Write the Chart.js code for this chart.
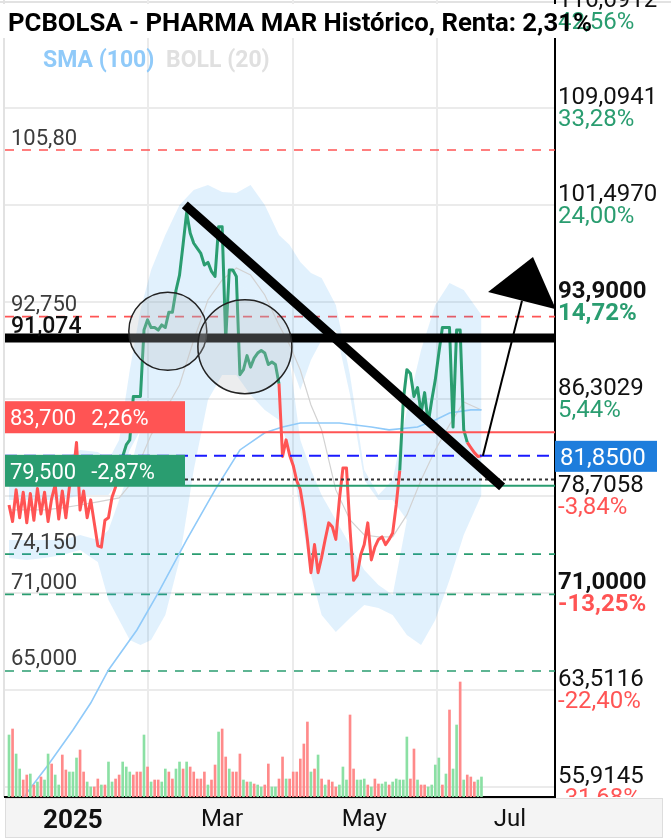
<!DOCTYPE html>
<html>
<head>
<meta charset="utf-8">
<script src="https://cdn.jsdelivr.net/npm/chart.js@4/dist/chart.umd.min.js"></script>
<style>
html, body { margin: 0; padding: 0; background: #fff; }
#wrap { width: 671px; height: 840px; position: relative; }
</style>
</head>
<body>
<div id="wrap"><canvas id="chart"></canvas></div>
<script>
// x = trading-day index, 0 = 4 Dec 2024
var price = [78.0, 76.7, 79.2, 77.0, 79.0, 76.6, 78.9, 76.8, 79.3, 77.3,
             79.0, 76.7, 78.5, 79.6, 76.9, 79.1, 77.0, 79.4, 80.2, 82.9,
             77.6, 79.1, 77.0, 78.4, 76.6, 74.8, 74.7, 76.8, 77.0, 78.6,
             79.4, 81.5, 81.8, 82.7, 83.1, 86.5, 86.5, 86.5, 91.7, 92.5,
             91.9, 91.9, 91.7, 92.1, 91.9, 93.1, 93.1, 94.8, 96.0, 98.4,
             100.9, 99.3, 98.5, 98.1, 97.7, 96.8, 97.0, 96.3, 95.9, 99.8,
             99.8, 90.9, 96.4, 96.4, 95.9, 88.2, 88.6, 89.7, 88.8, 89.5,
             89.9, 90.1, 89.9, 89.0, 89.2, 89.0, 87.5, 81.8, 83.1, 81.9,
             81.1, 79.9, 79.2, 77.5, 75.3, 72.7, 74.9, 72.7, 73.9, 75.3,
             76.6, 76.3, 75.3, 78.4, 80.9, 80.9, 76.1, 72.1, 72.5, 74.1,
             74.9, 76.6, 73.7, 74.7, 75.3, 75.5, 74.9, 75.3, 75.8, 78.0,
             80.7, 86.2, 88.6, 88.3, 86.5, 87.2, 85.2, 86.8, 84.4, 86.2,
             87.8, 89.9, 91.9, 91.9, 91.9, 84.1, 91.7, 91.7, 83.9, 82.9,
             82.5, 82.1, 81.8, 81.85];

// colour of the price line changes at these indices
var trendStart = [0, 31, 76, 110, 129];
var trendUp = [false, true, false, true, false];

var volume = [620, 680, 430, 280, 170, 220, 230, 120, 150, 200,
              170, 430, 330, 220, 120, 420, 270, 250, 250, 390,
              470, 250, 150, 100, 100, 180, 120, 120, 350, 150,
              180, 220, 350, 300, 250, 220, 250, 250, 620, 300,
              150, 170, 170, 150, 280, 250, 180, 280, 350, 280,
              350, 300, 250, 180, 180, 250, 120, 170, 320, 650,
              680, 400, 280, 250, 250, 430, 170, 150, 150, 130,
              120, 100, 120, 330, 100, 100, 180, 400, 180, 180,
              250, 250, 380, 530, 750, 250, 280, 420, 180, 120,
              170, 150, 100, 120, 300, 170, 820, 280, 170, 170,
              180, 120, 100, 180, 130, 130, 150, 120, 150, 180,
              170, 170, 600, 180, 480, 170, 120, 120, 100, 120,
              320, 390, 120, 230, 870, 280, 720, 1150, 170, 220,
              200, 150, 170, 200];
var volUp = [1, 0, 1, 1, 0, 0, 1, 0, 1, 0, 1, 1, 0, 1, 1, 0, 0, 1, 1, 1,
             0, 0, 1, 1, 0, 0, 1, 0, 1, 1, 0, 0, 1, 1, 1, 0, 0, 0, 1, 0,
             1, 0, 0, 1, 1, 0, 0, 1, 1, 0, 1, 0, 0, 0, 0, 0, 1, 0, 0, 1,
             0, 0, 1, 0, 0, 0, 1, 0, 1, 0, 1, 1, 0, 0, 1, 1, 0, 0, 1, 0,
             0, 0, 0, 0, 0, 1, 0, 1, 0, 1, 0, 0, 0, 1, 1, 1, 0, 0, 1, 1,
             1, 0, 1, 0, 0, 1, 1, 0, 1, 1, 1, 1, 1, 0, 0, 1, 0, 0, 1, 1,
             1, 1, 0, 1, 0, 1, 1, 0, 1, 0, 0, 0, 1, 1];

// BOLL (20): outer bands, inner edges of the shaded zones, middle
var bollIdx = [0, 5, 10, 15, 20, 25, 28, 31, 34, 37, 40, 44, 48, 52, 56, 60, 64, 68,
               72, 76, 79, 82, 85, 88, 92, 96, 100, 104, 108, 112, 116, 120, 124, 128, 133];
var bollUpper = [81.14, 81.14, 81.14, 81.53, 82.31, 82.15, 81.53, 83.09, 88.57, 93.27,
                 96.41, 99.15, 101.50, 102.67, 103.06, 102.51, 102.44, 103.06, 101.50, 99.15,
                 98.36, 97.03, 96.17, 95.78, 93.67, 88.18, 80.74, 78.79, 79.96, 85.44,
                 90.14, 93.67, 95.39, 94.84, 92.88];
var bollUpperIn = [78.40, 78.40, 78.40, 78.40, 78.79, 78.79, 78.79, 79.96, 82.31, 83.88,
                   84.66, 86.23, 87.79, 91.71, 94.06, 95.23, 95.23, 94.84, 93.67, 91.71,
                   89.36, 87.01, 89.36, 90.92, 91.71, 86.62, 79.96, 78.40, 78.40, 76.83,
                   79.96, 83.09, 84.66, 85.44, 86.23];
var bollLowerIn = [75.26, 75.26, 75.26, 75.26, 75.65, 75.26, 76.05, 78.40, 80.74, 83.88,
                   84.66, 86.23, 87.79, 91.71, 94.06, 95.23, 95.23, 94.84, 93.67, 91.71,
                   89.36, 83.09, 80.74, 78.79, 76.83, 74.87, 72.91, 71.74, 70.96, 76.83,
                   79.96, 83.09, 84.66, 85.44, 86.23];
var bollLower = [73.85, 73.70, 73.85, 74.09, 74.48, 73.54, 70.56, 68.99, 67.43, 67.04,
                 67.43, 69.39, 73.70, 80.74, 86.23, 88.18, 88.18, 86.62, 85.44, 84.66,
                 82.31, 77.61, 72.52, 69.39, 68.06, 69.15, 70.17, 69.94, 69.39, 67.82,
                 67.04, 68.99, 72.13, 75.65, 78.79];
var bollMid = [77.61, 77.61, 77.61, 77.77, 78.00, 78.24, 78.40, 78.55, 79.57, 81.53,
               83.49, 85.44, 87.40, 90.92, 94.06, 95.62, 96.56, 96.01, 94.45, 92.10,
               90.53, 88.57, 85.83, 83.88, 79.18, 76.83, 75.65, 75.50, 75.50, 77.22,
               79.96, 82.31, 84.27, 86.07, 85.44];

var smaIdx = [4, 5, 11, 18, 23, 28, 36, 42, 50, 58, 65, 72, 77, 82, 93, 102, 107, 115, 120, 124, 130, 133];
var sma100 = [54.89, 55.44, 57.64, 60.38, 62.49, 65.08, 68.21, 71.11, 75.26, 79.18, 82.31,
              83.65, 84.11, 84.42, 84.42, 84.11, 83.88, 84.11, 84.66, 85.21, 85.45, 85.45];

var monthTicks = [18, 60, 100, 141];
var monthLabels = ['2025', 'Mar', 'May', 'Jul'];

var yTicks = [55.9145, 63.5116, 71.1087, 78.7058, 86.3029, 93.9000, 101.4970, 109.0941, 116.6912];
var yTickLabels = ['55,9145', '63,5116', '71,0000', '78,7058', '86,3029', '93,9000', '101,4970', '109,0941', '116,6912'];
var yTickPct = ['-31,68%', '-22,40%', '-13,25%', '-3,84%', '5,44%', '14,72%', '24,00%', '33,28%', '42,56%'];
var yTickBold = [false, false, true, false, false, true, false, false, false];

var lastPrice = 81.85;
var lastLabel = '81,8500';
var prevClose = 80.00;

var levels = [105.80, 92.75, 91.074, 83.70, 79.50, 74.15, 71.00, 65.00];
var levelLabels = ['105,80', '92,750', '91,074', '83,700', '79,500', '74,150', '71,000', '65,000'];
var levelPct = ['', '', '', '2,26%', '-2,87%', '', '', ''];

var trendLine = [[49.5, 101.50], [138.8, 79.41]];
var arrowLine = [[133.4, 81.85], [147.5, 97.42]];
var circleCenters = [[44.7, 91.6], [66.4, 90.4]];

var title = 'PCBOLSA - PHARMA MAR Histórico, Renta: 2,31%';

var GREEN = '#2a9d70', RED = '#ff5454', GRID = '#ebebeb';

// how each level line is drawn
var levelStyle = [
  { kind: 'dash', color: RED },
  { kind: 'dash', color: RED },
  { kind: 'thick', color: '#000' },
  { kind: 'box', color: RED },
  { kind: 'box', color: GREEN },
  { kind: 'dash', color: GREEN },
  { kind: 'dash', color: GREEN },
  { kind: 'dash', color: GREEN }
];
var circleRadius = [39, 47];

function pts(xs, ys) {
  return xs.map(function (x, k) { return { x: x, y: ys[k] }; });
}
function isUp(i) {
  var up = false;
  for (var k = 0; k < trendStart.length; k++) if (i >= trendStart[k]) up = trendUp[k];
  return up;
}

Chart.defaults.font.family = 'Roboto';

var levelLines = {
  id: 'levelLines',
  beforeDraw: function (chart) {
    var c = chart.ctx, a = chart.chartArea;
    c.save();
    c.fillStyle = '#f4f4f4';
    c.fillRect(5, a.bottom + 1, 658, 40);
    c.strokeStyle = '#dddddd';
    c.lineWidth = 1;
    c.strokeRect(5.5, a.bottom + 1.5, 657, 39);
    c.strokeStyle = '#e2e2e2';
    c.lineWidth = 2;
    c.beginPath();
    c.moveTo(0, 2); c.lineTo(chart.width, 2);
    c.moveTo(4, 0); c.lineTo(4, a.bottom);
    c.stroke();
    c.restore();
  },
  beforeDatasetsDraw: function (chart) {
    var c = chart.ctx, a = chart.chartArea, y = chart.scales.y;
    c.save();
    levels.forEach(function (v, k) {
      var s = levelStyle[k], yy = y.getPixelForValue(v);
      if (s.kind !== 'dash') return;
      c.strokeStyle = s.color;
      c.lineWidth = 1.6;
      c.setLineDash([9, 8]);
      c.beginPath(); c.moveTo(a.left, yy); c.lineTo(a.right, yy); c.stroke();
    });
    c.restore();
  },
  afterDatasetsDraw: function (chart) {
    var c = chart.ctx, a = chart.chartArea, x = chart.scales.x, y = chart.scales.y;
    c.save();
    // last price and previous close
    var yl = y.getPixelForValue(lastPrice);
    c.strokeStyle = '#1a1aff'; c.lineWidth = 2; c.setLineDash([12, 7]);
    c.beginPath(); c.moveTo(a.left, yl); c.lineTo(a.right, yl); c.stroke();
    var yp = y.getPixelForValue(prevClose);
    c.strokeStyle = '#333'; c.lineWidth = 2; c.setLineDash([3, 3]);
    c.beginPath(); c.moveTo(185, yp); c.lineTo(a.right, yp); c.stroke();
    c.setLineDash([]);

    levels.forEach(function (v, k) {
      var s = levelStyle[k], yy = y.getPixelForValue(v);
      c.textBaseline = 'alphabetic';
      if (s.kind === 'thick') {
        c.strokeStyle = '#000'; c.lineWidth = 9;
        c.beginPath(); c.moveTo(a.left, yy); c.lineTo(a.right, yy); c.stroke();
        c.fillStyle = '#111'; c.font = '500 23px Roboto';
        c.fillText(levelLabels[k], 11, yy - 5.5);
      } else if (s.kind === 'box') {
        c.strokeStyle = s.color; c.lineWidth = 2;
        c.beginPath(); c.moveTo(a.left, yy); c.lineTo(a.right, yy); c.stroke();
        c.fillStyle = s.color;
        c.fillRect(a.left, yy - 31, 180, 31);
        c.fillStyle = '#fff'; c.font = '22px Roboto';
        c.fillText(levelLabels[k], 10, yy - 7);
        var w = c.measureText(levelLabels[k]).width;
        c.fillText(levelPct[k], 10 + w + 15, yy - 7);
      } else {
        c.fillStyle = '#3c3c3c'; c.font = '22px Roboto';
        c.fillText(levelLabels[k], 11, yy - 5.5);
      }
    });

    // circles
    circleCenters.forEach(function (p, k) {
      var cx = x.getPixelForValue(p[0]), cy = y.getPixelForValue(p[1]);
      c.beginPath(); c.arc(cx, cy, circleRadius[k], 0, Math.PI * 2);
      c.fillStyle = 'rgba(185,190,195,0.28)'; c.fill();
      c.strokeStyle = '#222'; c.lineWidth = 1.5; c.stroke();
    });

    // thick trend line
    c.strokeStyle = '#000'; c.lineWidth = 9; c.lineCap = 'butt';
    c.beginPath();
    c.moveTo(x.getPixelForValue(trendLine[0][0]), y.getPixelForValue(trendLine[0][1]));
    c.lineTo(x.getPixelForValue(trendLine[1][0]), y.getPixelForValue(trendLine[1][1]));
    c.stroke();

    // arrow
    var x0 = x.getPixelForValue(arrowLine[0][0]), y0 = y.getPixelForValue(arrowLine[0][1]);
    var x1 = x.getPixelForValue(arrowLine[1][0]), y1 = y.getPixelForValue(arrowLine[1][1]);
    var dx = x1 - x0, dy = y1 - y0, len = Math.sqrt(dx * dx + dy * dy);
    var ux = dx / len, uy = dy / len;
    var bx = x1 - ux * 45, by = y1 - uy * 45;
    c.lineWidth = 2;
    c.beginPath(); c.moveTo(x0, y0); c.lineTo(bx, by); c.stroke();
    c.fillStyle = '#000';
    c.beginPath();
    c.moveTo(x1, y1);
    c.lineTo(bx - uy * 35, by + ux * 35);
    c.lineTo(bx + uy * 35, by - ux * 35);
    c.closePath(); c.fill();

    // right axis labels
    c.save();
    c.beginPath(); c.rect(a.right + 1, 0, chart.width - a.right, a.bottom); c.clip();
    yTicks.forEach(function (v, k) {
      var yy = y.getPixelForValue(v);
      c.font = (yTickBold[k] ? 'bold ' : '') + '24px Roboto';
      c.fillStyle = '#111';
      c.fillText(yTickLabels[k], a.right + 3, yy - 4);
      c.fillStyle = yTickPct[k].charAt(0) === '-' ? RED : GREEN;
      c.fillText(yTickPct[k], a.right + 3, yy + 18.5);
    });
    c.restore();
    c.fillStyle = '#1e7ddc';
    c.fillRect(a.right, yl - 15, 102, 31);
    c.fillStyle = '#fff'; c.font = '24px Roboto';
    c.fillText(lastLabel, a.right + 5, yl + 9);

    // title and legend
    c.fillStyle = '#fff';
    c.fillRect(0, 4, a.right + 3, 34);
    c.fillStyle = '#000';
    c.font = 'bold 24px Roboto';
    var tw = c.measureText(title).width;
    c.font = 'bold ' + (24 * 584 / tw).toFixed(2) + 'px Roboto';
    c.fillText(title, 8, 31);
    c.font = 'bold 23px Roboto';
    c.fillStyle = '#90caf9';
    c.fillText('SMA (100)', 43, 67);
    c.fillStyle = '#e0e0e0';
    c.fillText('BOLL (20)', 166, 67);
    c.restore();
  }
};

new Chart(document.getElementById('chart'), {
  type: 'line',
  data: {
    datasets: [
      { data: pts(bollIdx, bollUpper), borderWidth: 0, pointRadius: 0, fill: '+1',
        backgroundColor: 'rgba(33,150,243,0.135)', order: 11 },
      { data: pts(bollIdx, bollUpperIn), borderWidth: 0, pointRadius: 0, fill: false, order: 10 },
      { data: pts(bollIdx, bollLowerIn), borderWidth: 0, pointRadius: 0, fill: '+1',
        backgroundColor: 'rgba(33,150,243,0.135)', order: 9 },
      { data: pts(bollIdx, bollLower), borderWidth: 0, pointRadius: 0, fill: false, order: 8 },
      { data: pts(bollIdx, bollMid), borderColor: '#d2d2d2', borderWidth: 1.2, pointRadius: 0, order: 7 },
      { data: pts(smaIdx, sma100), borderColor: '#90caf9', borderWidth: 1.6, pointRadius: 0, order: 6 },
      { type: 'bar', yAxisID: 'yv', data: volume.map(function (v, i) { return { x: i, y: v }; }),
        backgroundColor: volUp.map(function (u) { return u ? '#8be0a4' : '#ff8a8a'; }),
        barThickness: 2, order: 5 },
      { data: price.map(function (v, i) { return { x: i, y: v }; }), borderWidth: 3, pointRadius: 0,
        borderColor: GREEN, borderJoinStyle: 'round', order: 0,
        segment: { borderColor: function (s) { return isUp(s.p0DataIndex) ? GREEN : RED; } } }
    ]
  },
  options: {
    responsive: true,
    maintainAspectRatio: false,
    animation: false,
    events: [],
    layout: { padding: { left: 5, top: 0, right: 0, bottom: 0 } },
    plugins: { legend: { display: false }, tooltip: { enabled: false }, title: { display: false } },
    scales: {
      x: {
        type: 'linear', min: -1.13, max: 153.7, offset: false,
        afterBuildTicks: function (s) { s.ticks = monthTicks.map(function (v) { return { value: v }; }); },
        afterFit: function (s) { s.height = 43; },
        grid: { color: GRID, lineWidth: 2, drawTicks: false },
        border: { display: true, color: '#000', width: 2 },
        ticks: {
          autoSkip: false, maxRotation: 0, padding: 9, color: '#111',
          callback: function (v, i) { return monthLabels[i]; },
          font: function (c) { return c.index === 0 ? { size: 26, weight: 'bold' } : { size: 24 }; }
        }
      },
      y: {
        position: 'right', min: 55.13, max: 117.55,
        afterBuildTicks: function (s) { s.ticks = yTicks.map(function (v) { return { value: v }; }); },
        afterFit: function (s) { s.width = 116; },
        grid: { color: GRID, lineWidth: 2, drawTicks: false },
        border: { display: true, color: '#000', width: 2 },
        ticks: { display: false }
      },
      yv: { display: false, min: 0, max: 7970 }
    }
  },
  plugins: [levelLines]
});
</script>
</body>
</html>
